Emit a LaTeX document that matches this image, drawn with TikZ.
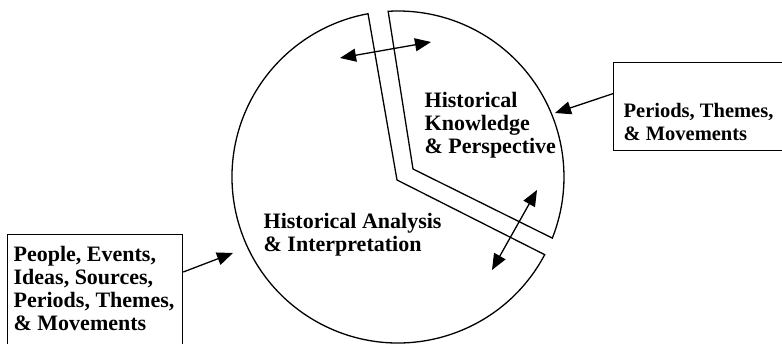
\documentclass[tikz,border=0pt]{standalone}
\usepackage{fontspec}
\setmainfont{Liberation Serif}
\usetikzlibrary{arrows.meta,calc}

\begin{document}
\begin{tikzpicture}[x=1pt, y=1pt, line width=1.3pt, >={Triangle[length=16pt,width=13pt]}, font=\fontsize{22}{23}\selectfont\bfseries]
\tikzset{
  srcbox/.style={draw, anchor=north west, inner sep=0pt},
  srctext/.style={align=left, anchor=north west, inner sep=0pt},
  wedge/.style={draw, line join=miter}
}
\clip (0,0) rectangle (782,344);

\coordinate (c) at (398,167);
% analysis wedge
\draw[wedge] ($(c)+(100.4:166)$) -- (397,164) -- ($(c)+(-27.9:166)$) arc[start angle=-27.9, end angle=-259.6, radius=166] -- cycle;
% knowledge wedge
\draw[wedge] ($(c)+(93.4:166)$) -- (413,175) -- ($(c)+(-21.6:166)$) arc[start angle=-21.6, end angle=93.4, radius=166] -- cycle;

\node[srctext] (knowledge) at (424,252.5) {Historical\\Knowledge\\\& Perspective};
\node[srctext] (analysis) at (263,131.5) {Historical Analysis\\\& Interpretation};

% source boxes
\node[srcbox, minimum width=175, minimum height=130] (peoplebox) at (7,110) {};
\node[srctext] (people) at (13,98.5) {People, Events,\\Ideas, Sources,\\Periods, Themes,\\\& Movements};
\node[srcbox, minimum width=200, minimum height=88] (themesbox) at (613,282) {};
\node[srctext, font=\fontsize{20.5}{23}\selectfont\bfseries] (themes) at (623,241.5) {Periods, Themes,\\\& Movements};

\coordinate (hitright) at (555,231);
\coordinate (hitleft) at (233,91);
\draw[->] ([yshift=13]themesbox.west) -- (hitright);
\draw[->] ([yshift=-38]peoplebox.north east) -- (hitleft);

% exchange between the two wedges
\coordinate (ka1) at (340,286);
\coordinate (ka2) at (431,302);
\draw[<->] (ka1) -- (ka2);
\coordinate (kb1) at (537,154);
\coordinate (kb2) at (492,74);
\draw[<->] (kb1) -- (kb2);
\end{tikzpicture}
\end{document}
